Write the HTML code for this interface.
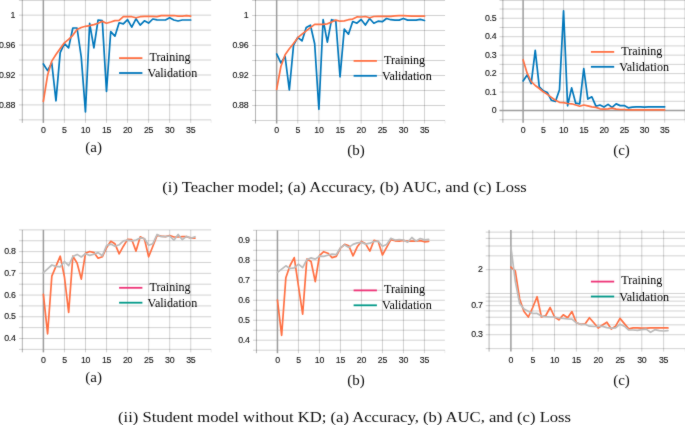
<!DOCTYPE html>
<html><head><meta charset="utf-8">
<style>
html,body{margin:0;padding:0;background:#fff;}
body{width:685px;height:425px;overflow:hidden;}
svg{display:block;}
.t{font-family:"Liberation Sans", sans-serif;font-size:8.8px;fill:#151515;stroke:#151515;stroke-width:0.12px;letter-spacing:-0.3px;}
.lg{font-family:"Liberation Serif", serif;font-size:13.2px;fill:#000;}
.cp{font-family:"Liberation Serif", serif;font-size:15px;fill:#111;}
.cap{font-family:"Liberation Serif", serif;font-size:14.5px;fill:#111;}
</style></head>
<body>
<div id="w"><svg width="685" height="425" viewBox="0 0 685 425" shape-rendering="auto">
<defs><filter id="bl" x="0" y="0" width="685" height="425" filterUnits="userSpaceOnUse" color-interpolation-filters="sRGB"><feConvolveMatrix order="3" kernelMatrix="1 2 1 2 28 2 1 2 1" edgeMode="duplicate"/></filter></defs>
<g filter="url(#bl)">
<rect width="685" height="425" fill="#fff"/>
<line x1="18.9" y1="0.4" x2="211.15" y2="0.4" stroke="rgba(0,0,0,0.18)"/>
<line x1="18.9" y1="15.15" x2="211.15" y2="15.15" stroke="rgba(0,0,0,0.18)"/>
<line x1="18.9" y1="30.11" x2="211.15" y2="30.11" stroke="rgba(0,0,0,0.18)"/>
<line x1="18.9" y1="45.07" x2="211.15" y2="45.07" stroke="rgba(0,0,0,0.18)"/>
<line x1="18.9" y1="60.03" x2="211.15" y2="60.03" stroke="rgba(0,0,0,0.18)"/>
<line x1="18.9" y1="74.99" x2="211.15" y2="74.99" stroke="rgba(0,0,0,0.18)"/>
<line x1="18.9" y1="89.95" x2="211.15" y2="89.95" stroke="rgba(0,0,0,0.18)"/>
<line x1="18.9" y1="104.91" x2="211.15" y2="104.91" stroke="rgba(0,0,0,0.18)"/>
<line x1="18.9" y1="119.87" x2="211.15" y2="119.87" stroke="rgba(0,0,0,0.18)"/>
<line x1="22.3" y1="0" x2="22.3" y2="122.87" stroke="rgba(0,0,0,0.3)"/>
<line x1="43.35" y1="0" x2="43.35" y2="122.87" stroke="#9c9c9c" stroke-width="1.5"/>
<line x1="64.4" y1="0" x2="64.4" y2="122.87" stroke="rgba(0,0,0,0.18)"/>
<line x1="85.45" y1="0" x2="85.45" y2="122.87" stroke="rgba(0,0,0,0.18)"/>
<line x1="106.5" y1="0" x2="106.5" y2="122.87" stroke="rgba(0,0,0,0.18)"/>
<line x1="127.55" y1="0" x2="127.55" y2="122.87" stroke="rgba(0,0,0,0.18)"/>
<line x1="148.6" y1="0" x2="148.6" y2="122.87" stroke="rgba(0,0,0,0.18)"/>
<line x1="169.65" y1="0" x2="169.65" y2="122.87" stroke="rgba(0,0,0,0.18)"/>
<line x1="190.7" y1="0" x2="190.7" y2="122.87" stroke="rgba(0,0,0,0.18)"/>
<line x1="211.15" y1="119.87" x2="211.15" y2="122.87" stroke="rgba(0,0,0,0.07)"/>
<text x="15" y="17.75" text-anchor="end" class="t">1</text>
<text x="15" y="47.67" text-anchor="end" class="t">0.96</text>
<text x="15" y="77.59" text-anchor="end" class="t">0.92</text>
<text x="15" y="107.51" text-anchor="end" class="t">0.88</text>
<text x="43.35" y="133.1" text-anchor="middle" class="t">0</text>
<text x="64.4" y="133.1" text-anchor="middle" class="t">5</text>
<text x="85.45" y="133.1" text-anchor="middle" class="t">10</text>
<text x="106.5" y="133.1" text-anchor="middle" class="t">15</text>
<text x="127.55" y="133.1" text-anchor="middle" class="t">20</text>
<text x="148.6" y="133.1" text-anchor="middle" class="t">25</text>
<text x="169.65" y="133.1" text-anchor="middle" class="t">30</text>
<text x="190.7" y="133.1" text-anchor="middle" class="t">35</text>
<polyline points="43.35,64 47.56,70.6 51.77,63 55.98,100.8 60.19,52.6 64.4,43.6 68.61,47.9 72.82,28 77.03,28 81.24,57 85.45,112 89.66,23.4 93.87,47.8 98.08,20 102.29,20.6 106.5,91.5 110.71,31.7 114.92,36.2 119.13,22.8 123.34,23.9 127.55,19.6 131.76,27.2 135.97,18.8 140.18,25.1 144.39,20.8 148.6,23.1 152.81,19 157.02,19.8 161.23,20 165.44,20 169.65,17.8 173.86,20 178.07,21 182.28,20 186.49,20 190.7,20" fill="none" stroke="#0077bb" stroke-width="1.7" stroke-linejoin="round" stroke-linecap="round"/>
<polyline points="43.35,101.3 47.56,75.3 51.77,61.1 55.98,54.5 60.19,48.5 64.4,42.8 68.61,39.4 72.82,35.3 77.03,29.5 81.24,27.5 85.45,26.3 89.66,25.6 93.87,24.6 98.08,23.2 102.29,21.4 106.5,23.2 110.71,22 114.92,20.6 119.13,20.3 123.34,16.6 127.55,16.7 131.76,16.7 135.97,17.8 140.18,16.7 144.39,16.3 148.6,16.3 152.81,16.3 157.02,16.7 161.23,15.7 165.44,15.7 169.65,15.7 173.86,15.5 178.07,16.1 182.28,16.1 186.49,15.7 190.7,16.1" fill="none" stroke="#ff7043" stroke-width="1.7" stroke-linejoin="round" stroke-linecap="round"/>
<line x1="119.1" y1="58.1" x2="142.4" y2="58.1" stroke="#ff7043" stroke-width="1.8"/>
<line x1="119.1" y1="73" x2="142.4" y2="73" stroke="#0077bb" stroke-width="1.8"/>
<text x="149.5" y="60.8" class="lg" textLength="41.1" lengthAdjust="spacingAndGlyphs">Training</text>
<text x="147.5" y="77" class="lg" textLength="49.7" lengthAdjust="spacingAndGlyphs">Validation</text>
<text x="93.7" y="152.2" text-anchor="middle" class="cp">(a)</text>
<line x1="252.12" y1="0.5" x2="445.05" y2="0.5" stroke="rgba(0,0,0,0.18)"/>
<line x1="252.12" y1="15.5" x2="445.05" y2="15.5" stroke="rgba(0,0,0,0.18)"/>
<line x1="252.12" y1="30.5" x2="445.05" y2="30.5" stroke="rgba(0,0,0,0.18)"/>
<line x1="252.12" y1="45.5" x2="445.05" y2="45.5" stroke="rgba(0,0,0,0.18)"/>
<line x1="252.12" y1="60.5" x2="445.05" y2="60.5" stroke="rgba(0,0,0,0.18)"/>
<line x1="252.12" y1="75.5" x2="445.05" y2="75.5" stroke="rgba(0,0,0,0.18)"/>
<line x1="252.12" y1="90.5" x2="445.05" y2="90.5" stroke="rgba(0,0,0,0.18)"/>
<line x1="252.12" y1="105.5" x2="445.05" y2="105.5" stroke="rgba(0,0,0,0.18)"/>
<line x1="252.12" y1="120.5" x2="445.05" y2="120.5" stroke="rgba(0,0,0,0.18)"/>
<line x1="255.52" y1="0" x2="255.52" y2="123.5" stroke="rgba(0,0,0,0.3)"/>
<line x1="276.65" y1="0" x2="276.65" y2="123.5" stroke="#9c9c9c" stroke-width="1.5"/>
<line x1="297.77" y1="0" x2="297.77" y2="123.5" stroke="rgba(0,0,0,0.18)"/>
<line x1="318.9" y1="0" x2="318.9" y2="123.5" stroke="rgba(0,0,0,0.18)"/>
<line x1="340.02" y1="0" x2="340.02" y2="123.5" stroke="rgba(0,0,0,0.18)"/>
<line x1="361.15" y1="0" x2="361.15" y2="123.5" stroke="rgba(0,0,0,0.18)"/>
<line x1="382.27" y1="0" x2="382.27" y2="123.5" stroke="rgba(0,0,0,0.18)"/>
<line x1="403.4" y1="0" x2="403.4" y2="123.5" stroke="rgba(0,0,0,0.18)"/>
<line x1="424.52" y1="0" x2="424.52" y2="123.5" stroke="rgba(0,0,0,0.18)"/>
<line x1="445.05" y1="120.5" x2="445.05" y2="123.5" stroke="rgba(0,0,0,0.07)"/>
<text x="248.3" y="18.1" text-anchor="end" class="t">1</text>
<text x="248.3" y="48.1" text-anchor="end" class="t">0.96</text>
<text x="248.3" y="78.1" text-anchor="end" class="t">0.92</text>
<text x="248.3" y="108.1" text-anchor="end" class="t">0.88</text>
<text x="276.65" y="133.1" text-anchor="middle" class="t">0</text>
<text x="297.77" y="133.1" text-anchor="middle" class="t">5</text>
<text x="318.9" y="133.1" text-anchor="middle" class="t">10</text>
<text x="340.02" y="133.1" text-anchor="middle" class="t">15</text>
<text x="361.15" y="133.1" text-anchor="middle" class="t">20</text>
<text x="382.27" y="133.1" text-anchor="middle" class="t">25</text>
<text x="403.4" y="133.1" text-anchor="middle" class="t">30</text>
<text x="424.52" y="133.1" text-anchor="middle" class="t">35</text>
<polyline points="276.65,53.9 280.88,62.9 285.1,56.5 289.32,90 293.55,45.2 297.77,37.4 302,40.9 306.22,27.4 310.45,25.2 314.67,43.8 318.9,109.3 323.12,19.7 327.35,42.1 331.57,19.7 335.8,20.9 340.02,76.8 344.25,29.1 348.47,34.2 352.7,21.5 356.92,23.2 361.15,19.5 365.38,25 369.6,18.5 373.82,23.2 378.05,21.2 382.27,21.7 386.5,18.5 390.72,19.7 394.95,20.1 399.17,20.1 403.4,18.5 407.62,20.1 411.85,20.1 416.07,20.1 420.3,19.4 424.52,20.5" fill="none" stroke="#0077bb" stroke-width="1.7" stroke-linejoin="round" stroke-linecap="round"/>
<polyline points="276.65,89.4 280.88,66.5 285.1,54.7 289.32,48.8 293.55,43.5 297.77,37.7 302,34.2 306.22,30.9 310.45,27.6 314.67,24.4 318.9,24.4 323.12,24.4 327.35,23.8 331.57,22.1 335.8,20.1 340.02,21.2 344.25,20.9 348.47,19.7 352.7,19.1 356.92,16.9 361.15,17 365.38,16.5 369.6,17.8 373.82,16.5 378.05,16.4 382.27,16.4 386.5,16.4 390.72,16.4 394.95,15.8 399.17,15.6 403.4,15.6 407.62,15.8 411.85,16.2 416.07,16.2 420.3,16.2 424.52,16.2" fill="none" stroke="#ff7043" stroke-width="1.7" stroke-linejoin="round" stroke-linecap="round"/>
<line x1="353.6" y1="60.9" x2="376.9" y2="60.9" stroke="#ff7043" stroke-width="1.8"/>
<line x1="353.6" y1="75.8" x2="376.9" y2="75.8" stroke="#0077bb" stroke-width="1.8"/>
<text x="384" y="63.6" class="lg" textLength="41.1" lengthAdjust="spacingAndGlyphs">Training</text>
<text x="382" y="79.8" class="lg" textLength="49.7" lengthAdjust="spacingAndGlyphs">Validation</text>
<text x="356" y="155" text-anchor="middle" class="cp">(b)</text>
<line x1="499.48" y1="0.4" x2="685" y2="0.4" stroke="rgba(0,0,0,0.18)"/>
<line x1="499.48" y1="9.03" x2="685" y2="9.03" stroke="rgba(0,0,0,0.18)"/>
<line x1="499.48" y1="18.25" x2="685" y2="18.25" stroke="rgba(0,0,0,0.18)"/>
<line x1="499.48" y1="27.48" x2="685" y2="27.48" stroke="rgba(0,0,0,0.18)"/>
<line x1="499.48" y1="36.7" x2="685" y2="36.7" stroke="rgba(0,0,0,0.18)"/>
<line x1="499.48" y1="45.92" x2="685" y2="45.92" stroke="rgba(0,0,0,0.18)"/>
<line x1="499.48" y1="55.15" x2="685" y2="55.15" stroke="rgba(0,0,0,0.18)"/>
<line x1="499.48" y1="64.38" x2="685" y2="64.38" stroke="rgba(0,0,0,0.18)"/>
<line x1="499.48" y1="73.6" x2="685" y2="73.6" stroke="rgba(0,0,0,0.18)"/>
<line x1="499.48" y1="82.83" x2="685" y2="82.83" stroke="rgba(0,0,0,0.18)"/>
<line x1="499.48" y1="92.05" x2="685" y2="92.05" stroke="rgba(0,0,0,0.18)"/>
<line x1="499.48" y1="101.28" x2="685" y2="101.28" stroke="rgba(0,0,0,0.18)"/>
<line x1="499.48" y1="119.73" x2="685" y2="119.73" stroke="rgba(0,0,0,0.18)"/>
<line x1="502.88" y1="0" x2="502.88" y2="122.72" stroke="rgba(0,0,0,0.3)"/>
<line x1="523.1" y1="0" x2="523.1" y2="122.72" stroke="#9c9c9c" stroke-width="1.5"/>
<line x1="543.33" y1="0" x2="543.33" y2="122.72" stroke="rgba(0,0,0,0.18)"/>
<line x1="563.55" y1="0" x2="563.55" y2="122.72" stroke="rgba(0,0,0,0.18)"/>
<line x1="583.77" y1="0" x2="583.77" y2="122.72" stroke="rgba(0,0,0,0.18)"/>
<line x1="604" y1="0" x2="604" y2="122.72" stroke="rgba(0,0,0,0.18)"/>
<line x1="624.23" y1="0" x2="624.23" y2="122.72" stroke="rgba(0,0,0,0.18)"/>
<line x1="644.45" y1="0" x2="644.45" y2="122.72" stroke="rgba(0,0,0,0.18)"/>
<line x1="664.67" y1="0" x2="664.67" y2="122.72" stroke="rgba(0,0,0,0.18)"/>
<line x1="685" y1="119.72" x2="685" y2="122.72" stroke="rgba(0,0,0,0.07)"/>
<line x1="684.5" y1="0" x2="684.5" y2="119.72" stroke="rgba(0,0,0,0.1)"/>
<line x1="499.48" y1="110.5" x2="685" y2="110.5" stroke="#9c9c9c" stroke-width="1.4"/>
<text x="496.3" y="20.85" text-anchor="end" class="t">0.5</text>
<text x="496.3" y="39.3" text-anchor="end" class="t">0.4</text>
<text x="496.3" y="57.75" text-anchor="end" class="t">0.3</text>
<text x="496.3" y="76.2" text-anchor="end" class="t">0.2</text>
<text x="496.3" y="94.65" text-anchor="end" class="t">0.1</text>
<text x="496.3" y="113.1" text-anchor="end" class="t">0</text>
<text x="523.1" y="133.1" text-anchor="middle" class="t">0</text>
<text x="543.33" y="133.1" text-anchor="middle" class="t">5</text>
<text x="563.55" y="133.1" text-anchor="middle" class="t">10</text>
<text x="583.77" y="133.1" text-anchor="middle" class="t">15</text>
<text x="604" y="133.1" text-anchor="middle" class="t">20</text>
<text x="624.23" y="133.1" text-anchor="middle" class="t">25</text>
<text x="644.45" y="133.1" text-anchor="middle" class="t">30</text>
<text x="664.67" y="133.1" text-anchor="middle" class="t">35</text>
<polyline points="523.1,80.9 527.14,75 531.19,83.6 535.24,50.3 539.28,86.8 543.33,90.9 547.37,92.6 551.41,100.3 555.46,101.5 559.5,89.7 563.55,10.9 567.6,105.8 571.64,87.9 575.69,103.2 579.73,103.8 583.77,68.5 587.82,99.1 591.87,96.8 595.91,106.2 599.96,105 604,107 608.05,104.4 612.09,107.4 616.13,103.9 620.18,105.6 624.23,105.6 628.27,107.8 632.32,107.2 636.36,106.9 640.4,106.9 644.45,107.2 648.5,106.8 652.54,106.9 656.59,106.8 660.63,106.9 664.67,106.8" fill="none" stroke="#0077bb" stroke-width="1.7" stroke-linejoin="round" stroke-linecap="round"/>
<polyline points="523.1,59.7 527.14,73.2 531.19,81.5 535.24,85.5 539.28,88.5 543.33,91.8 547.37,94.4 551.41,97.4 555.46,100.3 559.5,102.3 563.55,102.6 567.6,103.5 571.64,103.8 575.69,105 579.73,106.2 583.77,105 587.82,105.8 591.87,106.8 595.91,107.4 599.96,108.8 604,109.1 608.05,108.9 612.09,108.2 616.13,109.1 620.18,109.5 624.23,109.5 628.27,109.8 632.32,109.9 636.36,109.9 640.4,109.9 644.45,109.9 648.5,109.9 652.54,109.9 656.59,109.9 660.63,109.9 664.67,109.9" fill="none" stroke="#ff7043" stroke-width="1.7" stroke-linejoin="round" stroke-linecap="round"/>
<line x1="590.9" y1="51.9" x2="614.2" y2="51.9" stroke="#ff7043" stroke-width="1.8"/>
<line x1="590.9" y1="66.8" x2="614.2" y2="66.8" stroke="#0077bb" stroke-width="1.8"/>
<text x="621.3" y="54.6" class="lg" textLength="41.1" lengthAdjust="spacingAndGlyphs">Training</text>
<text x="619.3" y="70.8" class="lg" textLength="49.7" lengthAdjust="spacingAndGlyphs">Validation</text>
<text x="621.5" y="155" text-anchor="middle" class="cp">(c)</text>
<line x1="18.95" y1="229.9" x2="211.2" y2="229.9" stroke="rgba(0,0,0,0.18)"/>
<line x1="18.95" y1="240.76" x2="211.2" y2="240.76" stroke="rgba(0,0,0,0.18)"/>
<line x1="18.95" y1="251.62" x2="211.2" y2="251.62" stroke="rgba(0,0,0,0.18)"/>
<line x1="18.95" y1="262.48" x2="211.2" y2="262.48" stroke="rgba(0,0,0,0.18)"/>
<line x1="18.95" y1="273.34" x2="211.2" y2="273.34" stroke="rgba(0,0,0,0.18)"/>
<line x1="18.95" y1="284.2" x2="211.2" y2="284.2" stroke="rgba(0,0,0,0.18)"/>
<line x1="18.95" y1="295.06" x2="211.2" y2="295.06" stroke="rgba(0,0,0,0.18)"/>
<line x1="18.95" y1="305.92" x2="211.2" y2="305.92" stroke="rgba(0,0,0,0.18)"/>
<line x1="18.95" y1="316.78" x2="211.2" y2="316.78" stroke="rgba(0,0,0,0.18)"/>
<line x1="18.95" y1="327.64" x2="211.2" y2="327.64" stroke="rgba(0,0,0,0.18)"/>
<line x1="18.95" y1="338.5" x2="211.2" y2="338.5" stroke="rgba(0,0,0,0.18)"/>
<line x1="18.95" y1="349.36" x2="211.2" y2="349.36" stroke="rgba(0,0,0,0.18)"/>
<line x1="22.35" y1="229.9" x2="22.35" y2="352.36" stroke="rgba(0,0,0,0.3)"/>
<line x1="43.4" y1="229.9" x2="43.4" y2="352.36" stroke="#9c9c9c" stroke-width="1.5"/>
<line x1="64.45" y1="229.9" x2="64.45" y2="352.36" stroke="rgba(0,0,0,0.18)"/>
<line x1="85.5" y1="229.9" x2="85.5" y2="352.36" stroke="rgba(0,0,0,0.18)"/>
<line x1="106.55" y1="229.9" x2="106.55" y2="352.36" stroke="rgba(0,0,0,0.18)"/>
<line x1="127.6" y1="229.9" x2="127.6" y2="352.36" stroke="rgba(0,0,0,0.18)"/>
<line x1="148.65" y1="229.9" x2="148.65" y2="352.36" stroke="rgba(0,0,0,0.18)"/>
<line x1="169.7" y1="229.9" x2="169.7" y2="352.36" stroke="rgba(0,0,0,0.18)"/>
<line x1="190.75" y1="229.9" x2="190.75" y2="352.36" stroke="rgba(0,0,0,0.18)"/>
<line x1="211.2" y1="349.36" x2="211.2" y2="352.36" stroke="rgba(0,0,0,0.07)"/>
<text x="15.5" y="254.22" text-anchor="end" class="t">0.8</text>
<text x="15.5" y="275.94" text-anchor="end" class="t">0.7</text>
<text x="15.5" y="297.66" text-anchor="end" class="t">0.6</text>
<text x="15.5" y="319.38" text-anchor="end" class="t">0.5</text>
<text x="15.5" y="341.1" text-anchor="end" class="t">0.4</text>
<text x="43.4" y="362.9" text-anchor="middle" class="t">0</text>
<text x="64.45" y="362.9" text-anchor="middle" class="t">5</text>
<text x="85.5" y="362.9" text-anchor="middle" class="t">10</text>
<text x="106.55" y="362.9" text-anchor="middle" class="t">15</text>
<text x="127.6" y="362.9" text-anchor="middle" class="t">20</text>
<text x="148.65" y="362.9" text-anchor="middle" class="t">25</text>
<text x="169.7" y="362.9" text-anchor="middle" class="t">30</text>
<text x="190.75" y="362.9" text-anchor="middle" class="t">35</text>
<polyline points="43.4,294.4 47.61,333.8 51.82,276.2 56.03,266.2 60.24,256.2 64.45,277 68.66,312.4 72.87,256.2 77.08,263 81.29,279.1 85.5,253.2 89.71,251.5 93.92,252.6 98.13,258.2 102.34,256.8 106.55,247.7 110.76,241.3 114.97,243.8 119.18,253.8 123.39,246.2 127.6,239.4 131.81,239.7 136.02,251.1 140.23,236.8 144.44,238.9 148.65,256.8 152.86,246.2 157.07,235.4 161.28,236.2 165.49,236.6 169.7,235.5 173.91,237 178.12,237 182.33,236.7 186.54,236.7 190.75,237.9 194.96,238.2" fill="none" stroke="#ff7043" stroke-width="1.7" stroke-linejoin="round" stroke-linecap="round"/>
<polyline points="43.4,272.6 47.61,268.8 51.82,265 56.03,266.4 60.24,266.8 64.45,261.5 68.66,265.6 72.87,256.5 77.08,254.4 81.29,257 85.5,253.8 89.71,255.4 93.92,254.2 98.13,252.6 102.34,255.8 106.55,245.6 110.76,244.1 114.97,246.2 119.18,244.8 123.39,240.9 127.6,240.1 131.81,240.9 136.02,240.1 140.23,237.9 144.44,238.5 148.65,245.2 152.86,243.7 157.07,234.5 161.28,236.7 165.49,236.7 169.7,236 173.91,240.2 178.12,234.5 182.33,239.6 186.54,236.4 190.75,238.2 194.96,236.7" fill="none" stroke="#bbbbbb" stroke-width="1.7" stroke-linejoin="round" stroke-linecap="round"/>
<line x1="119.1" y1="287.8" x2="142.4" y2="287.8" stroke="#ee3377" stroke-width="1.8"/>
<line x1="119.1" y1="302.7" x2="142.4" y2="302.7" stroke="#009988" stroke-width="1.8"/>
<text x="149.5" y="290.5" class="lg" textLength="41.1" lengthAdjust="spacingAndGlyphs">Training</text>
<text x="147.5" y="306.7" class="lg" textLength="49.7" lengthAdjust="spacingAndGlyphs">Validation</text>
<text x="93.7" y="381.6" text-anchor="middle" class="cp">(a)</text>
<line x1="253.05" y1="230.31" x2="444.85" y2="230.31" stroke="rgba(0,0,0,0.18)"/>
<line x1="253.05" y1="240.3" x2="444.85" y2="240.3" stroke="rgba(0,0,0,0.18)"/>
<line x1="253.05" y1="250.29" x2="444.85" y2="250.29" stroke="rgba(0,0,0,0.18)"/>
<line x1="253.05" y1="260.28" x2="444.85" y2="260.28" stroke="rgba(0,0,0,0.18)"/>
<line x1="253.05" y1="270.27" x2="444.85" y2="270.27" stroke="rgba(0,0,0,0.18)"/>
<line x1="253.05" y1="280.26" x2="444.85" y2="280.26" stroke="rgba(0,0,0,0.18)"/>
<line x1="253.05" y1="290.25" x2="444.85" y2="290.25" stroke="rgba(0,0,0,0.18)"/>
<line x1="253.05" y1="300.24" x2="444.85" y2="300.24" stroke="rgba(0,0,0,0.18)"/>
<line x1="253.05" y1="310.23" x2="444.85" y2="310.23" stroke="rgba(0,0,0,0.18)"/>
<line x1="253.05" y1="320.22" x2="444.85" y2="320.22" stroke="rgba(0,0,0,0.18)"/>
<line x1="253.05" y1="330.21" x2="444.85" y2="330.21" stroke="rgba(0,0,0,0.18)"/>
<line x1="253.05" y1="340.2" x2="444.85" y2="340.2" stroke="rgba(0,0,0,0.18)"/>
<line x1="253.05" y1="350.19" x2="444.85" y2="350.19" stroke="rgba(0,0,0,0.18)"/>
<line x1="256.45" y1="230.31" x2="256.45" y2="353.19" stroke="rgba(0,0,0,0.3)"/>
<line x1="277.45" y1="230.31" x2="277.45" y2="353.19" stroke="#9c9c9c" stroke-width="1.5"/>
<line x1="298.45" y1="230.31" x2="298.45" y2="353.19" stroke="rgba(0,0,0,0.18)"/>
<line x1="319.45" y1="230.31" x2="319.45" y2="353.19" stroke="rgba(0,0,0,0.18)"/>
<line x1="340.45" y1="230.31" x2="340.45" y2="353.19" stroke="rgba(0,0,0,0.18)"/>
<line x1="361.45" y1="230.31" x2="361.45" y2="353.19" stroke="rgba(0,0,0,0.18)"/>
<line x1="382.45" y1="230.31" x2="382.45" y2="353.19" stroke="rgba(0,0,0,0.18)"/>
<line x1="403.45" y1="230.31" x2="403.45" y2="353.19" stroke="rgba(0,0,0,0.18)"/>
<line x1="424.45" y1="230.31" x2="424.45" y2="353.19" stroke="rgba(0,0,0,0.18)"/>
<line x1="444.85" y1="350.19" x2="444.85" y2="353.19" stroke="rgba(0,0,0,0.07)"/>
<text x="249.6" y="242.9" text-anchor="end" class="t">0.9</text>
<text x="249.6" y="262.88" text-anchor="end" class="t">0.8</text>
<text x="249.6" y="282.86" text-anchor="end" class="t">0.7</text>
<text x="249.6" y="302.84" text-anchor="end" class="t">0.6</text>
<text x="249.6" y="322.82" text-anchor="end" class="t">0.5</text>
<text x="249.6" y="342.8" text-anchor="end" class="t">0.4</text>
<text x="277.45" y="362.9" text-anchor="middle" class="t">0</text>
<text x="298.45" y="362.9" text-anchor="middle" class="t">5</text>
<text x="319.45" y="362.9" text-anchor="middle" class="t">10</text>
<text x="340.45" y="362.9" text-anchor="middle" class="t">15</text>
<text x="361.45" y="362.9" text-anchor="middle" class="t">20</text>
<text x="382.45" y="362.9" text-anchor="middle" class="t">25</text>
<text x="403.45" y="362.9" text-anchor="middle" class="t">30</text>
<text x="424.45" y="362.9" text-anchor="middle" class="t">35</text>
<polyline points="277.45,300 281.65,335.3 285.85,277.8 290.05,265.5 294.25,257.6 298.45,286 302.65,314.1 306.85,259.1 311.05,261.5 315.25,281.6 319.45,255.6 323.65,251.7 327.85,253.2 332.05,257.6 336.25,256.4 340.45,248.2 344.65,244.4 348.85,245.9 353.05,255.8 357.25,246.8 361.45,241.5 365.65,243.8 369.85,251.1 374.05,240.3 378.25,241.5 382.45,255 386.65,247.4 390.85,239.7 395.05,240.8 399.25,241.2 403.45,240.5 407.65,241.2 411.85,241.2 416.05,241.1 420.25,240.6 424.45,241.8 428.65,241.4" fill="none" stroke="#ff7043" stroke-width="1.7" stroke-linejoin="round" stroke-linecap="round"/>
<polyline points="277.45,272.4 281.65,269.1 285.85,265.8 290.05,268.5 294.25,267.9 298.45,264.2 302.65,267.7 306.85,259.7 311.05,257.9 315.25,259.1 319.45,256.2 323.65,256.4 327.85,255.2 332.05,254.1 336.25,254.7 340.45,247.6 344.65,244.9 348.85,247.4 353.05,244.4 357.25,242.9 361.45,242.4 365.65,244.1 369.85,243.2 374.05,241.5 378.25,241.2 382.45,246.2 386.65,244.5 390.85,238.3 395.05,240 399.25,239.5 403.45,240 407.65,242.2 411.85,237.5 416.05,241.1 420.25,238.5 424.45,239.9 428.65,239.4" fill="none" stroke="#bbbbbb" stroke-width="1.7" stroke-linejoin="round" stroke-linecap="round"/>
<line x1="353.6" y1="290.4" x2="376.9" y2="290.4" stroke="#ee3377" stroke-width="1.8"/>
<line x1="353.6" y1="305.3" x2="376.9" y2="305.3" stroke="#009988" stroke-width="1.8"/>
<text x="384" y="293.1" class="lg" textLength="41.1" lengthAdjust="spacingAndGlyphs">Training</text>
<text x="382" y="309.3" class="lg" textLength="49.7" lengthAdjust="spacingAndGlyphs">Validation</text>
<text x="355.9" y="385" text-anchor="middle" class="cp">(b)</text>
<line x1="485.69" y1="232.11" x2="685" y2="232.11" stroke="rgba(0,0,0,0.18)"/>
<line x1="485.69" y1="238.36" x2="685" y2="238.36" stroke="rgba(0,0,0,0.18)"/>
<line x1="485.69" y1="246" x2="685" y2="246" stroke="rgba(0,0,0,0.18)"/>
<line x1="485.69" y1="255.85" x2="685" y2="255.85" stroke="rgba(0,0,0,0.18)"/>
<line x1="485.69" y1="269.74" x2="685" y2="269.74" stroke="rgba(0,0,0,0.18)"/>
<line x1="485.69" y1="293.48" x2="685" y2="293.48" stroke="rgba(0,0,0,0.18)"/>
<line x1="485.69" y1="297.09" x2="685" y2="297.09" stroke="rgba(0,0,0,0.18)"/>
<line x1="485.69" y1="301.13" x2="685" y2="301.13" stroke="rgba(0,0,0,0.18)"/>
<line x1="485.69" y1="305.7" x2="685" y2="305.7" stroke="rgba(0,0,0,0.18)"/>
<line x1="485.69" y1="310.98" x2="685" y2="310.98" stroke="rgba(0,0,0,0.18)"/>
<line x1="485.69" y1="317.23" x2="685" y2="317.23" stroke="rgba(0,0,0,0.18)"/>
<line x1="485.69" y1="324.87" x2="685" y2="324.87" stroke="rgba(0,0,0,0.18)"/>
<line x1="485.69" y1="334.72" x2="685" y2="334.72" stroke="rgba(0,0,0,0.18)"/>
<line x1="485.69" y1="348.61" x2="685" y2="348.61" stroke="rgba(0,0,0,0.18)"/>
<line x1="489.08" y1="229.9" x2="489.08" y2="351.61" stroke="rgba(0,0,0,0.3)"/>
<line x1="510.9" y1="229.9" x2="510.9" y2="351.61" stroke="#9c9c9c" stroke-width="1.5"/>
<line x1="532.72" y1="229.9" x2="532.72" y2="351.61" stroke="rgba(0,0,0,0.18)"/>
<line x1="554.53" y1="229.9" x2="554.53" y2="351.61" stroke="rgba(0,0,0,0.18)"/>
<line x1="576.35" y1="229.9" x2="576.35" y2="351.61" stroke="rgba(0,0,0,0.18)"/>
<line x1="598.16" y1="229.9" x2="598.16" y2="351.61" stroke="rgba(0,0,0,0.18)"/>
<line x1="619.98" y1="229.9" x2="619.98" y2="351.61" stroke="rgba(0,0,0,0.18)"/>
<line x1="641.79" y1="229.9" x2="641.79" y2="351.61" stroke="rgba(0,0,0,0.18)"/>
<line x1="663.61" y1="229.9" x2="663.61" y2="351.61" stroke="rgba(0,0,0,0.18)"/>
<line x1="685" y1="348.61" x2="685" y2="351.61" stroke="rgba(0,0,0,0.07)"/>
<text x="482.6" y="272.34" text-anchor="end" class="t">2</text>
<text x="482.6" y="308.3" text-anchor="end" class="t">0.7</text>
<text x="482.6" y="337.32" text-anchor="end" class="t">0.3</text>
<text x="510.9" y="362.9" text-anchor="middle" class="t">0</text>
<text x="532.72" y="362.9" text-anchor="middle" class="t">5</text>
<text x="554.53" y="362.9" text-anchor="middle" class="t">10</text>
<text x="576.35" y="362.9" text-anchor="middle" class="t">15</text>
<text x="598.16" y="362.9" text-anchor="middle" class="t">20</text>
<text x="619.98" y="362.9" text-anchor="middle" class="t">25</text>
<text x="641.79" y="362.9" text-anchor="middle" class="t">30</text>
<text x="663.61" y="362.9" text-anchor="middle" class="t">35</text>
<polyline points="510.9,267.1 515.26,270.8 519.63,299 523.99,311.5 528.35,317 532.72,307.5 537.08,296.7 541.44,317 545.8,315.5 550.17,307.5 554.53,317 558.89,319.9 563.26,314.8 567.62,317.7 571.98,311.6 576.35,322.8 580.71,324.3 585.07,323.9 589.43,317.7 593.8,322.8 598.16,328 602.52,325 606.89,322.2 611.25,329 615.61,326.2 619.98,318.4 624.34,323.6 628.7,328.8 633.06,327.9 637.43,327.9 641.79,328.1 646.15,328.1 650.52,327.9 654.88,327.9 659.24,327.9 663.61,327.9 667.97,327.9" fill="none" stroke="#ff7043" stroke-width="1.7" stroke-linejoin="round" stroke-linecap="round"/>
<polyline points="510.9,247 515.26,281 519.63,303.5 523.99,309 528.35,311.3 532.72,313.5 537.08,313.4 541.44,316 545.8,316.6 550.17,317 554.53,317 558.89,318 563.26,318.5 567.62,318.9 571.98,319.2 576.35,322.8 580.71,324.3 585.07,324.3 589.43,326.2 593.8,326.5 598.16,326.5 602.52,326.4 606.89,327.6 611.25,328.1 615.61,327.9 619.98,324.2 624.34,326.2 628.7,330 633.06,330 637.43,330.4 641.79,329.7 646.15,329.1 650.52,332.3 654.88,329.7 659.24,330.7 663.61,331 667.97,330.7" fill="none" stroke="#bbbbbb" stroke-width="1.7" stroke-linejoin="round" stroke-linecap="round"/>
<line x1="590.9" y1="281.6" x2="614.2" y2="281.6" stroke="#ee3377" stroke-width="1.8"/>
<line x1="590.9" y1="296.5" x2="614.2" y2="296.5" stroke="#009988" stroke-width="1.8"/>
<text x="621.3" y="284.3" class="lg" textLength="41.1" lengthAdjust="spacingAndGlyphs">Training</text>
<text x="619.3" y="300.5" class="lg" textLength="49.7" lengthAdjust="spacingAndGlyphs">Validation</text>
<text x="621.5" y="385" text-anchor="middle" class="cp">(c)</text>
<text x="162.3" y="191.8" class="cap" textLength="364.5" lengthAdjust="spacingAndGlyphs">(i) Teacher model; (a) Accuracy, (b) AUC, and (c) Loss</text>
<text x="118" y="421.6" class="cap" textLength="453" lengthAdjust="spacingAndGlyphs">(ii) Student model without KD; (a) Accuracy, (b) AUC, and (c) Loss</text>
</g>
</svg></div>
</body></html>
